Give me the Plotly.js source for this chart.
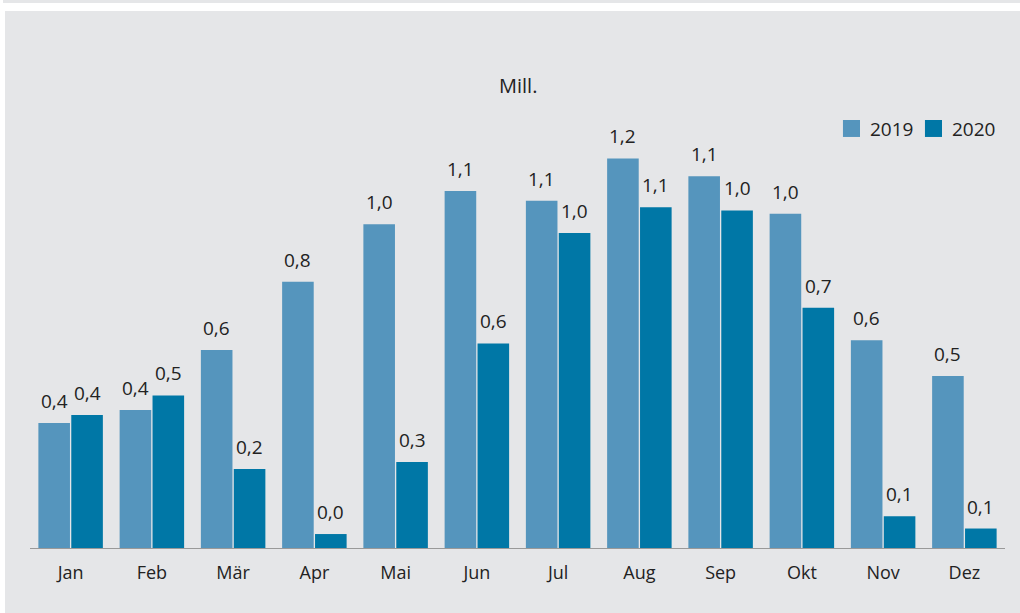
<!DOCTYPE html>
<html><head><meta charset="utf-8">
<script src="https://cdn.plot.ly/plotly-3.0.1.min.js"></script>
<style>
html,body{margin:0;padding:0;background:#fff;width:1020px;height:613px;overflow:hidden;}
#strip{position:absolute;left:3px;top:0;width:1017px;height:3px;background:#e5e6e8;}
#chart{position:absolute;left:5px;top:11px;width:1015px;height:602px;}
</style></head>
<body>
<div id="strip"></div>
<div id="chart"></div>
<script>
const months = ["Jan","Feb","Mär","Apr","Mai","Jun","Jul","Aug","Sep","Okt","Nov","Dez"];
const values2019 = [0.385,0.425,0.61,0.82,0.997,1.10,1.07,1.20,1.145,1.03,0.64,0.53];
const values2020 = [0.41,0.47,0.243,0.043,0.265,0.63,0.97,1.05,1.04,0.74,0.098,0.06];
const seriesNames = ["2019","2020"];
const colors = ["#5595bd","#0077a6"];
const fmt = v => v.toFixed(1).replace('.', ',');
const font = "'Open Sans', 'Noto Sans', sans-serif";
const series = [values2019, values2020];
const traces = series.map((vals, i) => ({
  type: 'bar', x: months, y: vals, name: seriesNames[i],
  marker: {color: colors[i]}, showlegend: false, hoverinfo: 'skip'
}));
const annotations = [];
series.forEach((vals, i) => {
  vals.forEach((v, j) => {
    annotations.push({x: months[j], y: v, xref: 'x', yref: 'y', text: fmt(v), showarrow: false,
      xshift: i === 0 ? -16.5 : 16.5, yshift: 22, yanchor: 'middle', xanchor: 'center',
      font: {size: 19, color: '#222'}});
  });
});
annotations.push({text: 'Mill.', xref: 'paper', yref: 'paper', x: 0.5, y: 1, yshift: 41, yanchor: 'middle',
  showarrow: false, font: {size: 20, color: '#222'}});
// manual legend
const legendSq = [[0.8338, 0.8513], [0.9179, 0.9354]];
const legendTx = [0.8595, 0.9436];
const shapes = [];
seriesNames.forEach((n, i) => {
  shapes.push({type: 'rect', xref: 'paper', yref: 'paper', x0: legendSq[i][0], x1: legendSq[i][1],
    y0: 0.974, y1: 1.0142, fillcolor: colors[i], line: {width: 0}});
  annotations.push({text: n, xref: 'paper', yref: 'paper', x: legendTx[i], y: 0.994, xanchor: 'left',
    yanchor: 'middle', showarrow: false, font: {size: 19, color: '#222'}});
});
const layout = {
  width: 1015, height: 602,
  margin: {l: 25, r: 15, t: 115, b: 65},
  paper_bgcolor: '#e5e6e8', plot_bgcolor: '#e5e6e8',
  barmode: 'group', bargap: 0.19, bargroupgap: 0.04,
  font: {family: font, size: 18, color: '#222'},
  xaxis: {showline: true, linecolor: '#999', linewidth: 1, ticks: 'outside', ticklen: 8, tickcolor: 'rgba(0,0,0,0)',
          tickfont: {size: 18, color: '#222'}, showgrid: false, zeroline: false, range: [-0.5, 11.5]},
  yaxis: {range: [0, 1.3], visible: false, showgrid: false, zeroline: false},
  showlegend: false,
  annotations: annotations, shapes: shapes
};
Plotly.newPlot('chart', traces, layout, {displayModeBar: false, staticPlot: true});
</script>
</body></html>
